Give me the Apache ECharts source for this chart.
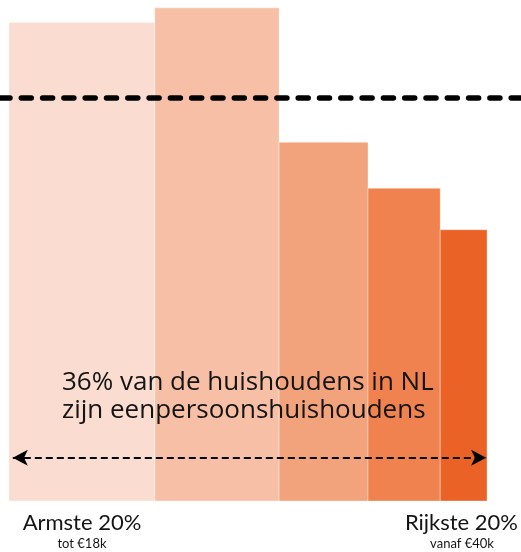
<!DOCTYPE html>
<html>
<head>
<meta charset="utf-8">
<script src="https://cdn.jsdelivr.net/npm/echarts@6/dist/echarts.min.js"></script>
<style>
  html, body { margin: 0; padding: 0; background: #fff; }
  #chart { width: 521px; height: 552px; }
</style>
</head>
<body>
<div id="chart"></div>
<script>
// share of all households in each income group (bar widths, %)
const groupShares = [30.5, 26.0, 18.6, 15.1, 9.8];
// share of one-person households within each group (bar heights, %)
const singleShares = [42.7, 44.0, 32.0, 27.9, 24.2];
const barColors = ['#FADDD0', '#F7C0A6', '#F3A37B', '#EF824E', '#EB6227'];
const averageShare = 36;
const arrowLevel = 3.85;
const annotation = ['36% van de huishoudens in NL', 'zijn eenpersoonshuishoudens'];
const edgeLabels = ['Armste 20%', 'Rijkste 20%'];
const edgeSubLabels = ['tot €18k', 'vanaf €40k'];

// cumulative start / end for each variable-width bar
let cursor = 0;
const barData = groupShares.map((w, i) => {
    const item = [cursor, cursor + w, singleShares[i], i];
    cursor += w;
    return item;
});

const FONT = 'Lato, "Open Sans", sans-serif';

function renderBar(params, api) {
    const topLeft = api.coord([api.value(0), api.value(2)]);
    const bottomRight = api.coord([api.value(1), 0]);
    return {
        type: 'rect',
        shape: {
            x: topLeft[0],
            y: topLeft[1],
            width: bottomRight[0] - topLeft[0],
            height: bottomRight[1] - topLeft[1]
        },
        style: {
            fill: barColors[api.value(3)],
            stroke: 'rgba(255,255,255,0.35)',
            lineWidth: 1
        }
    };
}

const chart = echarts.init(document.getElementById('chart'));

chart.setOption({
    animation: false,
    grid: { left: 0, right: 0, top: 0, bottom: 51 },
    xAxis: { type: 'value', min: -1.88, max: 107.1, show: false },
    yAxis: { type: 'value', min: 0, max: 44.7, show: false },
    series: [{
        type: 'custom',
        renderItem: renderBar,
        encode: { x: [0, 1], y: 2 },
        data: barData,
        silent: true,
        markLine: {
            silent: true,
            animation: false,
            label: { show: false },
            data: [
                [{
                    coord: [0, averageShare], x: 0, symbol: 'none',
                    lineStyle: { color: '#000', width: 5.5, type: [10, 11.3], cap: 'round' }
                }, { coord: [100, averageShare], x: 521, symbol: 'none' }],
                [{
                    coord: [0.8, arrowLevel], symbol: 'arrow', symbolSize: [12, 15],
                    lineStyle: { color: '#000', width: 2, type: [7, 4] }
                }, { coord: [99.8, arrowLevel], symbol: 'arrow', symbolSize: [12, 15] }]
            ]
        }
    }],
    graphic: [
        {
            type: 'text', x: 62, y: 397, z: 100,
            style: {
                text: annotation.join('\n'), fill: '#141414',
                font: '26px "Open Sans", sans-serif', lineHeight: 28,
                align: 'left', verticalAlign: 'middle'
            }
        },
        {
            type: 'text', x: 82, y: 523, z: 100,
            style: { text: edgeLabels[0], fill: '#141414', font: '22px ' + FONT, align: 'center', verticalAlign: 'middle' }
        },
        {
            type: 'text', x: 82, y: 544, z: 100,
            style: { text: edgeSubLabels[0], fill: '#141414', font: '13px ' + FONT, align: 'center', verticalAlign: 'middle' }
        },
        {
            type: 'text', x: 518, y: 523, z: 100,
            style: { text: edgeLabels[1], fill: '#141414', font: '22px ' + FONT, align: 'right', verticalAlign: 'middle' }
        },
        {
            type: 'text', x: 462, y: 544, z: 100,
            style: { text: edgeSubLabels[1], fill: '#141414', font: '13px ' + FONT, align: 'center', verticalAlign: 'middle' }
        }
    ]
});
</script>
</body>
</html>
